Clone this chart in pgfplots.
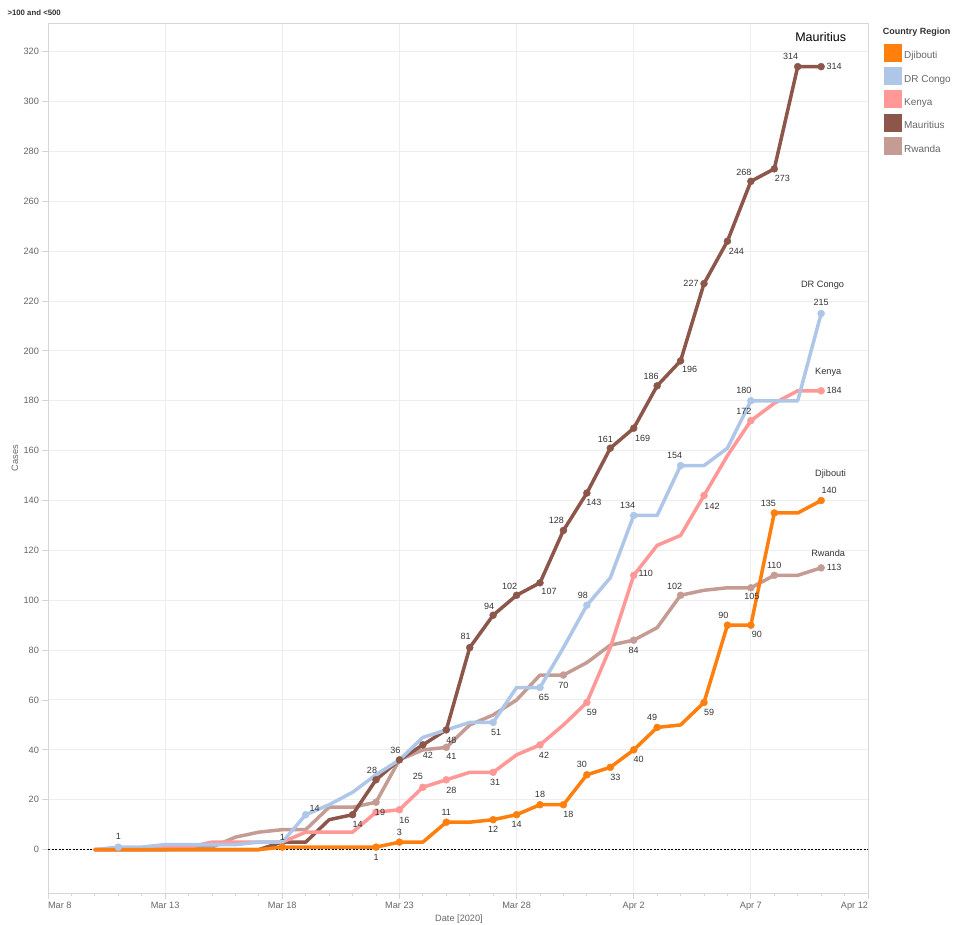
\documentclass[border=0pt]{standalone}
\usepackage{pgfplots}
\pgfplotsset{compat=1.18}
\usepackage{pgfplotstable}
\usepackage{fontspec}
\setmainfont{Liberation Sans}
\definecolor{cDj}{HTML}{FF7F0E}
\definecolor{cDR}{HTML}{AEC7E8}
\definecolor{cKe}{HTML}{FF9896}
\definecolor{cMa}{HTML}{8C564B}
\definecolor{cRw}{HTML}{C49C94}
\definecolor{gridc}{HTML}{EDEDED}
\definecolor{boxc}{HTML}{D6D6D6}
\definecolor{tickc}{HTML}{666666}
\definecolor{labc}{HTML}{333333}

% day index: 0 = Mar 8, 2020
\pgfplotstableread{
d v
2 0
3 0
4 0
5 0
6 0
7 0
8 0
9 0
10 1
11 1
12 1
13 1
14 1
15 3
16 3
17 11
18 11
19 12
20 14
21 18
22 18
23 30
24 33
25 40
26 49
27 50
28 59
29 90
30 90
31 135
32 135
33 140
}\djib
\pgfplotstableread{
d v dx dy
10 1 0 10
14 1 0 -10
15 3 0 10
17 11 0 10
19 12 0 -10
20 14 0 -10
21 18 0 10
22 18 5 -10
23 30 -5 10
24 33 5 -10
25 40 5 -10
26 49 -5 10
28 59 5 -10
29 90 -4 10
30 90 6 -9
31 135 -6 10
33 140 8 10
}\djibL

\pgfplotstableread{
d v
2 0
3 1
4 1
5 2
6 2
7 2
8 2
9 3
10 3
11 14
12 18
13 23
14 30
15 36
16 45
17 48
18 51
19 51
20 65
21 65
22 81
23 98
24 109
25 134
26 134
27 154
28 154
29 161
30 180
31 180
32 180
33 215
}\drc
\pgfplotstableread{
d v dx dy
3 1 0 11
11 14 9 6
19 51 3 -10
21 65 4 -10
23 98 -4 10
25 134 -6 10
27 154 -6 10
30 180 -7 10
33 215 0 11
}\drcL

\pgfplotstableread{
d v
2 0
3 0
4 0
5 1
6 1
7 3
8 3
9 3
10 3
11 7
12 7
13 7
14 15
15 16
16 25
17 28
18 31
19 31
20 38
21 42
22 50
23 59
24 81
25 110
26 122
27 126
28 142
29 158
30 172
31 179
32 184
33 184
}\ken
\pgfplotstableread{
d v dx dy
15 16 5 -11
16 25 -5 11
17 28 5 -11
19 31 2 -10
21 42 4 -10
23 59 5 -10
25 110 12 2
28 142 8 -11
30 172 -7 9
33 184 13 0
}\kenL

\pgfplotstableread{
d v
2 0
3 0
4 0
5 0
6 0
7 0
8 0
9 0
10 3
11 3
12 12
13 14
14 28
15 36
16 42
17 48
18 81
19 94
20 102
21 107
22 128
23 143
24 161
25 169
26 186
27 196
28 227
29 244
30 268
31 273
32 314
33 314
}\mau
\pgfplotstableread{
d v dx dy
13 14 5 -10
14 28 -4 9
15 36 -4 9
16 42 5 -10
17 48 5 -10
18 81 -4 11
19 94 -4 9
20 102 -7 9
21 107 9 -9
22 128 -7 10
23 143 7 -9
24 161 -5 9
25 169 9 -10
26 186 -6 9
27 196 9 -9
28 227 -13 0
29 244 9 -10
30 268 -7 9
31 273 8 -10
32 314 -7 10
33 314 13 0
}\mauL

\pgfplotstableread{
d v
2 0
3 0
4 0
5 0
6 1
7 1
8 5
9 7
10 8
11 8
12 17
13 17
14 19
15 36
16 40
17 41
18 50
19 54
20 60
21 70
22 70
23 75
24 82
25 84
26 89
27 102
28 104
29 105
30 105
31 110
32 110
33 113
}\rwa
\pgfplotstableread{
d v dx dy
14 19 4 -10
17 41 5 -9
22 70 0 -10
25 84 0 -10
27 102 -6 9
30 105 1 -9
31 110 0 10
33 113 13 0
}\rwaL

\pgfplotsset{
  serline/.style={line width=3.5pt, line join=round, line cap=round, forget plot},
  markpts/.style={only marks, mark=*, mark size=3.5pt, forget plot},
  lbls/.style={only marks, mark=none, forget plot,
    point meta=explicit,
    nodes near coords,
    visualization depends on={\thisrow{dx} \as \ldx},
    visualization depends on={\thisrow{dy} \as \ldy},
    every node near coord/.append style={anchor=center, xshift=\ldx pt, yshift=\ldy pt,
      font=\fontsize{9}{10}\selectfont, text=labc, inner sep=0pt}},
}

\begin{document}
\begin{tikzpicture}
\useasboundingbox (0,0) rectangle (953pt,924pt);
\begin{axis}[
  at={(48pt,31pt)}, anchor=south west,
  scale only axis, width=820pt, height=869pt,
  xmin=0, xmax=35, ymin=-17.4, ymax=331.1,
  xtick={0,5,...,35},
  xticklabels={\makebox[0pt][l]{Mar 8},Mar 13,Mar 18,Mar 23,Mar 28,Apr 2,Apr 7,\makebox[0pt][r]{Apr 12}},
  minor x tick num=4,
  ytick={0,20,...,320},
  xtick pos=bottom, ytick pos=left,
  tick align=outside,
  major tick length=5.5pt, minor tick length=3pt,
  tick style={draw=boxc, line width=0.8pt},
  grid=major,
  major grid style={draw=gridc, line width=1pt},
  axis line style={draw=boxc, line width=1pt},
  ticklabel style={font=\fontsize{9.2}{11}\selectfont, text=tickc},
  /pgf/number format/assume math mode=true,
  clip=false,
  legend style={at={(1,1)}, anchor=north west, xshift=16pt, yshift=-19.5pt,
    draw=none, fill=none, inner sep=0pt, row sep=6pt, column sep=2.5pt,
    font=\fontsize{10}{12}\selectfont, text=tickc,
    nodes={inner sep=0pt}},
  legend cell align=left,
  legend image code/.code={\fill[#1] (0pt,-5pt) rectangle (17pt,12pt);},
]
\addlegendimage{cDj}\addlegendentry{Djibouti}
\addlegendimage{cDR}\addlegendentry{DR Congo}
\addlegendimage{cKe}\addlegendentry{Kenya}
\addlegendimage{cMa}\addlegendentry{Mauritius}
\addlegendimage{cRw}\addlegendentry{Rwanda}

\addplot[black, line width=0.7pt, dash pattern=on 2pt off 1.5pt, forget plot] coordinates {(0,0) (35,0)};

\addplot[serline, color=cRw] table[x=d, y=v] {\rwa};
\addplot[markpts, color=cRw] table[x=d, y=v] {\rwaL};

\addplot[serline, color=cMa] table[x=d, y=v] {\mau};
\addplot[markpts, color=cMa] table[x=d, y=v] {\mauL};

\addplot[serline, color=cKe] table[x=d, y=v] {\ken};
\addplot[markpts, color=cKe] table[x=d, y=v] {\kenL};
\addplot[markpts, color=cKe] coordinates {(14,15)};

\addplot[serline, color=cDR] table[x=d, y=v] {\drc};
\addplot[markpts, color=cDR] table[x=d, y=v] {\drcL};

\addplot[serline, color=cDj] table[x=d, y=v] {\djib};
\addplot[markpts, color=cDj] table[x=d, y=v] {\djibL};

% value labels on top of all lines
\addplot[lbls] table[x=d, y=v, meta=v] {\rwaL};
\addplot[lbls] table[x=d, y=v, meta=v] {\mauL};
\addplot[lbls] table[x=d, y=v, meta=v] {\kenL};
\addplot[lbls] table[x=d, y=v, meta=v] {\drcL};
\addplot[lbls] table[x=d, y=v, meta=v] {\djibL};

\node[font=\fontsize{12.5}{14}\selectfont, text=black] at (axis cs:32.98,326) {Mauritius};
\node[font=\fontsize{9.2}{11}\selectfont, text=labc] at (axis cs:33.06,226.5) {DR Congo};
\node[font=\fontsize{9.2}{11}\selectfont, text=labc] at (axis cs:33.3,191.3) {Kenya};
\node[font=\fontsize{9.2}{11}\selectfont, text=labc] at (axis cs:33.4,150.4) {Djibouti};
\node[font=\fontsize{9.2}{11}\selectfont, text=labc] at (axis cs:33.3,119) {Rwanda};
\end{axis}
\node[anchor=west, inner sep=0pt, font=\bfseries\fontsize{7.8}{10}\selectfont, text=labc] at (7.3pt,911pt) {>100 and <500};
\node[anchor=west, inner sep=0pt, font=\bfseries\fontsize{9}{11}\selectfont, text=labc] at (882.7pt,892pt) {Country Region};
\node[rotate=90, font=\fontsize{9.2}{11}\selectfont, text=tickc] at (15pt,466pt) {Cases};
\node[font=\fontsize{9.2}{11}\selectfont, text=tickc] at (459pt,5pt) {Date [2020]};
\end{tikzpicture}
\end{document}
